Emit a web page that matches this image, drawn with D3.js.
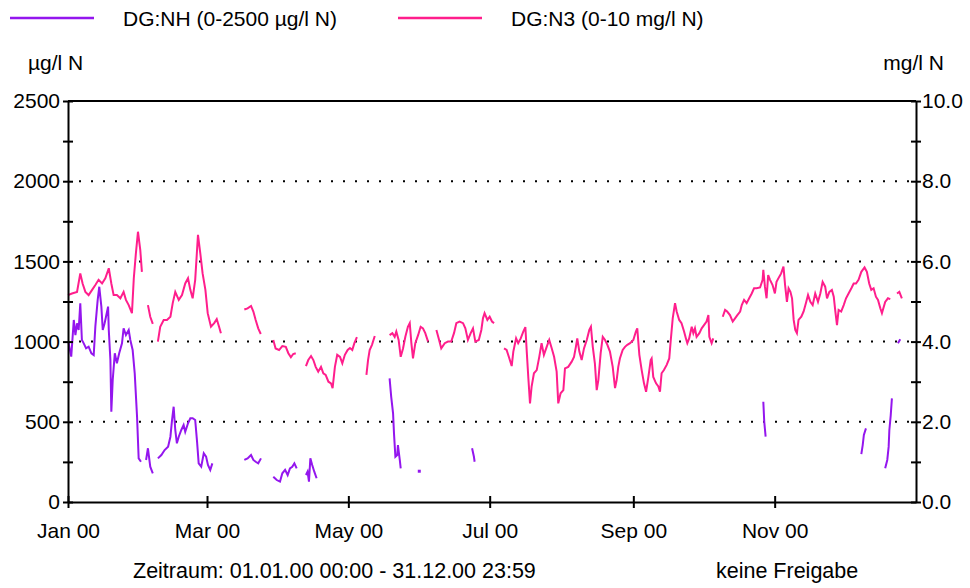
<!DOCTYPE html>
<html>
<head>
<meta charset="utf-8">
<script src="https://cdn.jsdelivr.net/npm/d3@7"></script>
<style>
  body { margin: 0; background: #fff; }
  svg { display: block; font-family: "Liberation Sans", Arial, sans-serif; }
</style>
</head>
<body>
<svg id="chart" width="970" height="588"></svg>
<script>
// Readings as [day of year 2000, value]; null marks a gap in the record.
var nhReadings = [
  [0.2,997],[1.4,906],[2.5,1135],[3.2,1041],[3.9,1114],[4.6,1072],[5.3,1239],[6,1010],[6.8,989],[7.8,958],
  [8.9,968],[10.1,927],[11.1,916],[11.8,1093],[12.8,1259],[13.5,1342],[14.4,1218],[15,1072],[15.8,1114],
  [16.4,1155],[17.3,1218],[17.6,1072],[18.3,885],[18.7,563],[19.3,761],[20.2,927],[21.1,865],[22.1,927],
  [23.3,989],[24,1083],[25,1041],[26.2,1072],[26.9,1010],[27.9,948],[28.8,802],[29.8,532],[30.5,272],[31.5,251],null,
  [33.7,262],[34.5,335],[35.5,220],[36.6,179],null,
  [38.8,272],[40.3,293],[41.7,324],[43.2,345],[44.2,407],[44.9,511],[45.6,594],[46.3,449],[47,366],[47.8,407],
  [48.9,449],[49.9,480],[50.6,438],[51.8,491],[52.8,522],[53.8,522],[54.9,511],[55.7,376],[56.4,241],[57.5,220],
  [58.6,304],[59.6,283],[60.4,231],[61.4,200],[62.3,241],null,
  [76.1,262],[77.5,272],[79,293],[80,262],[81,251],[82.1,241],[83.3,272],null,
  [88.6,158],[90.1,137],[91.5,127],[92.5,179],[93.7,200],[94.8,168],[95.8,210],[96.8,220],[97.7,241],[98.7,210],null,
  [102.7,168],[103.4,189],[104,127],[104.6,272],[105.4,231],[106.3,189],[107.3,148],null,
  [138.8,771],[139.5,656],[140.3,553],[140.7,428],[141.3,282],[142.1,293],[142.4,355],[143.2,262],[143.6,210],null,
  [151.4,195],null,
  [174.4,335],[175.2,282],[175.5,251],null,
  [300.1,625],[300.5,500],[301.1,407],null,
  [342.4,299],[343,355],[343.5,418],[344.4,459],null,
  [352.7,210],[353.6,262],[354.2,345],[354.5,449],[355.1,542],[355.6,646],null,
  [358.2,989],[359.2,1014]
];

var n3Readings = [
  [0,5.16],[1.7,5.20],[3.9,5.24],[5.3,5.70],[6.3,5.45],[7.5,5.24],[8.9,5.16],[10.4,5.29],[11.8,5.41],[13.2,5.54],
  [14.7,5.45],[16.1,5.58],[17.6,5.83],[18.7,5.45],[19.7,5.16],[21.1,5.16],[22.6,5.08],[24,5.24],[25,5.04],
  [26.2,4.91],[27.6,4.71],[28.4,5.58],[29.3,6.20],[30.2,6.74],[31.2,6.28],[31.9,5.74],null,
  [34.5,4.91],[35.5,4.62],[36.6,4.44],null,
  [38.8,4.00],[39.8,4.37],[41.3,4.54],[42.7,4.54],[44.2,4.62],[45.2,4.96],[46.3,5.24],[47.8,5.04],[49.2,5.16],
  [50.6,5.45],[51.8,5.58],[52.8,5.29],[53.8,5.08],[54.9,5.54],[56.1,6.66],[57.1,6.20],[58.1,5.70],[59.3,5.29],
  [60.3,4.71],[61.7,4.37],[63.1,4.46],[64.2,4.56],[65.2,4.37],[66,4.21],null,
  [76.1,4.80],[77.5,4.83],[79,4.89],[80,4.75],[81,4.54],[82.1,4.33],[83.2,4.19],null,
  [88.6,4.04],[89.6,3.83],[91.1,3.79],[92.5,3.89],[94,3.87],[95.1,3.71],[96.2,3.61],[97.2,3.69],[98.3,3.71],null,
  [102.7,3.39],[103.7,3.54],[104.9,3.64],[105.9,3.54],[106.9,3.37],[108,3.25],[109.2,3.37],[110.2,3.21],
  [111.2,3.17],[112.4,3.00],[113.5,2.96],[114.2,2.84],[115.2,3.37],[116.2,3.67],[117.4,3.62],[118.4,3.46],
  [119.5,3.67],[120.7,3.79],[121.7,3.84],[122.7,3.79],[123.6,3.96],[124.7,4.11],null,
  [128.8,3.17],[129.5,3.54],[130.2,3.79],[131.2,3.92],[132.4,4.14],null,
  [138.8,4.16],[140,4.21],[141,4.12],[141.7,4.25],[142.7,4.04],[143.6,3.62],[144.6,3.83],[145.6,4.12],[146.7,4.37],
  [147.5,4.46],[148.2,3.96],[148.9,3.58],[149.9,3.96],[151.1,4.16],[152.2,4.37],[153.2,4.33],[154.2,4.21],[155.4,4.00],null,
  [159,4.29],[160,4.08],[161.1,3.83],[162.6,3.96],[164,4.00],[165.4,4.00],[166.6,4.21],[167.6,4.46],[169,4.50],
  [170.5,4.46],[171.5,4.33],[172.6,4.04],[173.8,4.21],[174.8,4.33],[175.8,4.00],[177.3,4.04],[178.4,4.29],
  [179.1,4.58],[179.8,4.71],[181,4.54],[182,4.62],[183,4.50],[183.9,4.46],null,
  [188.2,3.83],[189.3,3.79],[190.5,3.58],[191.5,3.39],[192.2,3.75],[193.4,4.08],[194.3,3.96],[195.4,4.08],
  [196.5,4.25],[197.4,4.36],[198,3.75],[198.7,3.08],[199.4,2.46],[200.1,2.88],[201.1,3.21],[202.3,3.29],
  [203.4,3.62],[204.4,3.96],[205.4,3.67],[206.6,3.87],[207.7,4.04],[208.8,3.83],[209.8,3.62],[210.9,3.25],
  [211.6,2.46],[212.6,2.71],[213.8,2.79],[214.5,3.33],[215.9,3.37],[217.4,3.50],[218.4,3.62],[219.2,3.87],
  [219.8,4.08],[220.7,3.75],[221.7,3.54],[222.7,3.83],[223.9,4.04],[225,4.29],[225.7,4.37],[226.5,3.87],
  [227.4,3.46],[228.2,2.79],[228.9,3.04],[229.9,3.71],[230.8,4.12],[231.8,4.04],[232.8,3.92],[233.9,3.75],
  [235.1,3.37],[236.1,2.84],[236.8,3.04],[237.5,3.37],[238.2,3.58],[239.4,3.79],[240.4,3.87],[241.4,3.92],
  [242.6,3.96],[244,4.04],[245.1,4.25],[245.7,4.33],[246.6,3.67],[247.6,3.29],[248.6,2.96],[249.5,2.75],
  [250.5,3.12],[251.5,3.54],[251.9,3.58],[252.6,3.12],[253.8,2.96],[254.8,2.88],[255.5,2.75],[256.2,3.21],
  [257.2,3.29],[258.4,3.42],[259.5,3.58],[260.1,4.00],[261,4.58],[262,4.96],[262.7,4.75],[263.8,4.54],
  [264.8,4.46],[265.9,4.25],[266.7,4.08],[267.3,3.96],[268.1,4.08],[269.2,4.37],[269.9,4.21],[270.6,4.33],
  [271.3,4.12],[272.5,4.21],[273.5,4.33],[274.5,4.41],[275.6,4.50],[276.4,4.66],[276.8,4.12],[277.8,3.96],[278.5,4.08],null,
  [282.6,4.62],[283.6,4.79],[284.5,4.75],[285.7,4.66],[286.9,4.50],[287.9,4.58],[288.9,4.66],[290.1,4.75],
  [290.8,4.91],[291.8,5.04],[292.9,4.96],[294,5.08],[295.1,5.20],[296.1,5.33],[297.2,5.33],[298.7,5.35],
  [299.8,5.54],[300.1,5.79],[300.8,5.37],[301.5,5.08],[302.2,5.66],[303,5.54],[304.1,5.41],[305.1,5.20],
  [305.8,5.49],[307,5.62],[307.8,5.70],[308.8,5.87],[309.5,5.41],[310.3,4.99],[311,5.33],[311.8,5.24],
  [312.5,5.08],[313.2,4.54],[313.9,4.29],[314.6,4.21],[315.3,4.54],[316.5,4.62],[317.5,4.75],[318.5,4.96],
  [319.4,5.16],[320.4,4.99],[321.4,4.91],[322.5,5.20],[323.7,4.99],[324.7,5.20],[325.7,5.49],[326.8,5.37],
  [327.6,5.08],[328.6,5.24],[329.7,5.29],[330.5,5.12],[331.2,4.75],[331.9,4.41],[332.6,4.79],[333.7,4.75],
  [334.8,4.91],[335.8,5.08],[336.9,5.20],[338.1,5.33],[339.1,5.45],[340.1,5.45],[341.2,5.54],[342.4,5.74],
  [343.8,5.85],[344.8,5.74],[345.8,5.45],[346.7,5.29],[347.7,5.33],[348.7,5.12],[349.6,5.04],[350.6,4.83],
  [351.3,4.71],[352.1,4.87],[352.7,4.99],[353.9,5.08],[354.9,5.06],null,
  [357.8,5.20],[358.8,5.24],[359.9,5.08]
];

var nhTicks = [0, 250, 500, 750, 1000, 1250, 1500, 1750, 2000, 2250, 2500];
var nhLabelled = [0, 500, 1000, 1500, 2000, 2500];
var n3Ticks = [0, 1, 2, 3, 4, 5, 6, 7, 8, 9, 10];
var n3Labelled = [0, 2, 4, 6, 8, 10];
var gridValues = [500, 1000, 1500, 2000];
var monthTicks = ["2000-01-01", "2000-03-01", "2000-05-01", "2000-07-01", "2000-09-01", "2000-11-01"];

var seriesNames = ["DG:NH (0-2500 \u00b5g/l N)", "DG:N3 (0-10 mg/l N)"];
var nhColor = "#9416ee";
var n3Color = "#ff1e8c";

(function() {
  var plotLeft = 68, plotRight = 916, plotTop = 101, plotBottom = 502;
  var fontSize = "21px";

  var svg = d3.select("#chart");
  var yearStart = Date.UTC(2000, 0, 1);
  function toDate(day) { return new Date(yearStart + day * 864e5); }

  var x = d3.scaleUtc()
    .domain([new Date(Date.UTC(2000, 0, 1)), new Date(Date.UTC(2001, 0, 1))])
    .range([plotLeft, plotRight]);
  var yL = d3.scaleLinear().domain([0, 2500]).range([plotBottom, plotTop]);
  var yR = d3.scaleLinear().domain([0, 10]).range([plotBottom, plotTop]);

  // dotted grid
  svg.append("g").selectAll("line")
    .data(gridValues)
    .enter().append("line")
    .attr("x1", plotLeft + 11).attr("x2", plotRight)
    .attr("y1", function(d) { return yL(d); })
    .attr("y2", function(d) { return yL(d); })
    .attr("stroke", "#000")
    .attr("stroke-width", 2)
    .attr("stroke-dasharray", "2 10");

  function drawSeries(data, yScale, color) {
    var line = d3.line()
      .defined(function(d) { return d !== null; })
      .x(function(d) { return x(toDate(d[0])); })
      .y(function(d) { return yScale(d[1]); });
    svg.append("path")
      .datum(data)
      .attr("d", line)
      .attr("fill", "none")
      .attr("stroke", color)
      .attr("stroke-width", 2);
    // lone readings have no neighbour to join, show them as a dot
    var lone = data.filter(function(d, i) {
      return d !== null && !data[i - 1] && !data[i + 1];
    });
    svg.append("g").selectAll("rect")
      .data(lone)
      .enter().append("rect")
      .attr("x", function(d) { return x(toDate(d[0])) - 1; })
      .attr("y", function(d) { return yScale(d[1]) - 1; })
      .attr("width", 3).attr("height", 3)
      .attr("fill", color);
  }

  drawSeries(n3Readings, yR, n3Color);
  drawSeries(nhReadings, yL, nhColor);

  // frame top
  svg.append("line")
    .attr("x1", plotLeft).attr("x2", plotRight)
    .attr("y1", plotTop).attr("y2", plotTop)
    .attr("stroke", "#000").attr("stroke-width", 2);

  function styleAxis(g) {
    g.select(".domain").attr("stroke-width", 2);
    g.selectAll(".tick line").attr("stroke-width", 2);
    g.selectAll("text").attr("font-size", fontSize).attr("font-family", null).attr("fill", "#000");
  }

  var fmtL = d3.format("d");
  svg.append("g")
    .attr("transform", "translate(" + plotLeft + ",0)")
    .call(d3.axisLeft(yL).tickValues(nhTicks).tickSizeInner(5).tickSizeOuter(0).tickPadding(3)
      .tickFormat(function(d) { return nhLabelled.indexOf(d) >= 0 ? fmtL(d) : ""; }))
    .call(styleAxis)
    .call(function(g) { g.selectAll(".tick line").attr("x1", 5).attr("x2", -5); });

  var fmtR = d3.format(".1f");
  svg.append("g")
    .attr("transform", "translate(" + plotRight + ",0)")
    .call(d3.axisRight(yR).tickValues(n3Ticks).tickSizeInner(5).tickSizeOuter(0).tickPadding(1)
      .tickFormat(function(d) { return n3Labelled.indexOf(d) >= 0 ? fmtR(d) : ""; }))
    .call(styleAxis)
    .call(function(g) { g.selectAll(".tick line").attr("x1", -5).attr("x2", 5); });

  svg.append("g")
    .attr("transform", "translate(0," + plotBottom + ")")
    .call(d3.axisBottom(x)
      .tickValues(monthTicks.map(function(s) { return new Date(s + "T00:00:00Z"); }))
      .tickSizeInner(6).tickSizeOuter(0).tickPadding(15)
      .tickFormat(d3.utcFormat("%b %y")))
    .call(styleAxis)
    .call(function(g) { g.selectAll(".tick line").attr("y1", -6).attr("y2", 6); });

  // unit captions
  svg.append("text").attr("x", 28).attr("y", 70)
    .attr("font-size", fontSize).text("\u00b5g/l N");
  svg.append("text").attr("x", 944).attr("y", 70).attr("text-anchor", "end")
    .attr("font-size", fontSize).text("mg/l N");

  // legend
  var legend = svg.append("g").selectAll("g")
    .data([{ name: seriesNames[0], color: nhColor, x: 10 }, { name: seriesNames[1], color: n3Color, x: 398 }])
    .enter().append("g")
    .attr("transform", function(d) { return "translate(" + d.x + ",0)"; });
  legend.append("line")
    .attr("x1", 0).attr("x2", 84).attr("y1", 18).attr("y2", 18)
    .attr("stroke", function(d) { return d.color; })
    .attr("stroke-width", 2.5);
  legend.append("text")
    .attr("x", 113).attr("y", 26)
    .attr("font-size", fontSize)
    .text(function(d) { return d.name; });

  // footer
  svg.append("text").attr("x", 133).attr("y", 578)
    .attr("font-size", "21.5px").text("Zeitraum: 01.01.00 00:00 - 31.12.00 23:59");
  svg.append("text").attr("x", 716).attr("y", 578)
    .attr("font-size", "21.5px").text("keine Freigabe");
})();
</script>
</body>
</html>
